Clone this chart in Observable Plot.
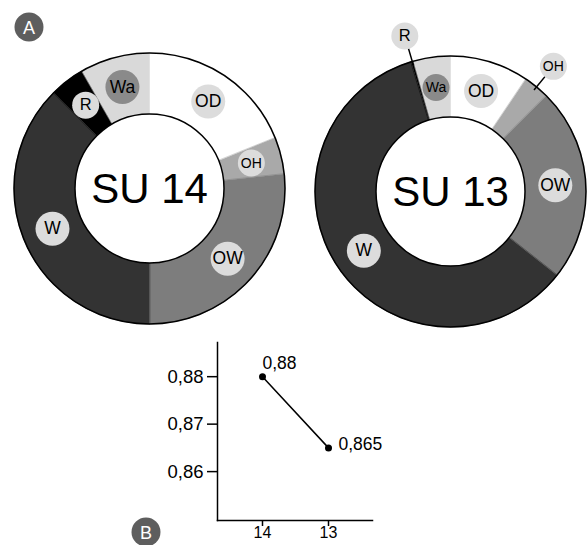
<!DOCTYPE html>
<html>
<head>
<meta charset="utf-8">
<script src="https://cdn.jsdelivr.net/npm/d3@7"></script>
<script src="https://cdn.jsdelivr.net/npm/@observablehq/plot@0.6"></script>
<style>
  html, body { margin: 0; padding: 0; background: white; }
  #wrap { position: relative; width: 588px; height: 545px; overflow: hidden; }
  #wrap svg { position: absolute; left: 0; }
</style>
</head>
<body>
<div id="wrap"></div>
<script>
// ---- data ----
const sites = ["SU 14", "SU 13"];
const segments = ["OD", "OH", "OW", "W", "R", "Wa"];
const su14 = [18.9, 4.4, 26.7, 37.5, 4.2, 8.3];   // % share, clockwise from top
const su13 = [9.4, 3.1, 23.1, 59.7, 0.3, 4.4];
const ratioCats = ["14", "13"];
const ratioVals = [0.88, 0.865];
const ratioLabels = ["0,88", "0,865"];
const yTicks = [0.86, 0.87, 0.88];
const badges = ["A", "B"];

// ---- styles / layout ----
const FONT = "'Liberation Sans', Arial, Helvetica, sans-serif";
const segColor = {OD: "#ffffff", OH: "#a9a9a9", OW: "#7d7d7d", W: "#333333", R: "#000000", Wa: "#d9d9d9"};
const labelBg = {OD: "#dcdcdc", OH: "#dcdcdc", OW: "#dcdcdc", W: "#dcdcdc", R: "#dcdcdc", Wa: "#8a8a8a"};
const centers = [{site: sites[0], cx: 149, cy: 188}, {site: sites[1], cx: 450, cy: 191}];
const R_OUT = 135.5, R_IN = 74.5, R_MID = 105, R_LAB_OUT = 162;
const badgePos = [{x: 28.5, y: 26.5}, {x: 145.5, y: 531.5}];
const seriesBySite = [su14, su13];

const rad = a => a * Math.PI / 180;
const px = (c, r, a) => c.cx + r * Math.sin(rad(a));
const py = (c, r, a) => c.cy - r * Math.cos(rad(a));

const polys = [];
const labels = [];
const leaders = [];
centers.forEach((c, i) => {
  const vals = seriesBySite[i];
  const total = d3.sum(vals);
  let acc = 0;
  segments.forEach((seg, j) => {
    const a0 = acc / total * 360;
    acc += vals[j];
    const a1 = acc / total * 360;
    const id = c.site + "-" + seg;
    const n = Math.max(2, Math.ceil((a1 - a0) / 0.5));
    for (let k = 0; k <= n; k++) {
      const a = a0 + (a1 - a0) * k / n;
      polys.push({id, color: segColor[seg], x: px(c, R_OUT, a), y: py(c, R_OUT, a)});
    }
    for (let k = n; k >= 0; k--) {
      const a = a0 + (a1 - a0) * k / n;
      polys.push({id, color: segColor[seg], x: px(c, R_IN, a), y: py(c, R_IN, a)});
    }
    const pct = vals[j] / total * 100;
    const mid = (a0 + a1) / 2;
    const outside = pct < 4;
    const small = pct < 5;
    const lr = outside ? R_LAB_OUT : R_MID;
    const r = small ? 13.5 : 17;
    const fs = small ? (seg.length > 1 ? 14 : 16.5) : 17.5;
    labels.push({seg, x: px(c, lr, mid), y: py(c, lr, mid), r, fs, bg: labelBg[seg]});
    if (outside) {
      leaders.push({x1: px(c, R_OUT - 4, mid), y1: py(c, R_OUT - 4, mid), x2: px(c, lr, mid), y2: py(c, lr, mid)});
    }
  });
});

const donutChart = Plot.plot({
  width: 588, height: 545, margin: 0,
  style: {background: "transparent", fontFamily: FONT},
  x: {domain: [0, 588], range: [0, 588], axis: null},
  y: {domain: [0, 545], range: [0, 545], axis: null},
  r: {type: "identity"},
  color: {type: "identity"},
  marks: [
    Plot.line(polys, {x: "x", y: "y", z: "id", fill: "color", stroke: "color", strokeWidth: 0.5, curve: "linear-closed"}),
    Plot.dot(centers, {x: "cx", y: "cy", r: R_OUT, fill: "none", stroke: "black", strokeWidth: 1.5}),
    Plot.dot(centers, {x: "cx", y: "cy", r: R_IN, fill: "white", stroke: "black", strokeWidth: 1.5}),
    Plot.link(leaders, {x1: "x1", y1: "y1", x2: "x2", y2: "y2", stroke: "black", strokeWidth: 1.5}),
    Plot.dot(labels, {x: "x", y: "y", r: "r", fill: "bg", stroke: null}),
    Plot.text(labels, {x: "x", y: "y", text: "seg", fontSize: d => d.fs, fill: "black"}),
    Plot.text(centers, {x: "cx", y: "cy", text: "site", fontSize: 42, fill: "black", dy: 1}),
    Plot.dot(badgePos, {x: "x", y: "y", r: 14.5, fill: "#5e5e5e"}),
    Plot.text(badgePos, {x: "x", y: "y", text: (d, i) => badges[i], fill: "white", fontSize: 18, dy: 1})
  ]
});
donutChart.style.top = "0px";

const pts = ratioCats.map((cat, i) => ({cat, v: ratioVals[i], label: ratioLabels[i]}));
const fmt = d => d.toFixed(2).replace(".", ",");

const ratioChart = Plot.plot({
  width: 588, height: 210,
  marginLeft: 217, marginRight: 216, marginTop: 7, marginBottom: 25,
  style: {background: "transparent", fontFamily: FONT, fontSize: "18.5px", overflow: "visible"},
  x: {type: "point", domain: ratioCats, padding: 0.667},
  y: {domain: [0.8497, 0.8872]},
  marks: [
    Plot.frame({anchor: "left", stroke: "black", strokeWidth: 1.5}),
    Plot.frame({anchor: "bottom", stroke: "black", strokeWidth: 1.5}),
    Plot.axisY({ticks: yTicks, tickFormat: fmt, tickSize: 10, tickPadding: 4, fontSize: 18.5, strokeWidth: 1.5, label: null, fill: "black"}),
    Plot.axisX({tickSize: 6, tickPadding: 0, fontSize: 16, strokeWidth: 1.5, label: null, fill: "black"}),
    Plot.line(pts, {x: "cat", y: "v", stroke: "black", strokeWidth: 1.5}),
    Plot.dot(pts, {x: "cat", y: "v", r: 3.5, fill: "black"}),
    Plot.text(pts.slice(0, 1), {x: "cat", y: "v", text: "label", textAnchor: "start", dx: 0, dy: -13, fontSize: 17.5, fill: "black"}),
    Plot.text(pts.slice(1), {x: "cat", y: "v", text: "label", textAnchor: "start", dx: 10, dy: -3, fontSize: 17.5, fill: "black"})
  ]
});
ratioChart.style.top = "335px";

const wrap = document.getElementById("wrap");
wrap.appendChild(donutChart);
wrap.appendChild(ratioChart);
</script>
</body>
</html>
